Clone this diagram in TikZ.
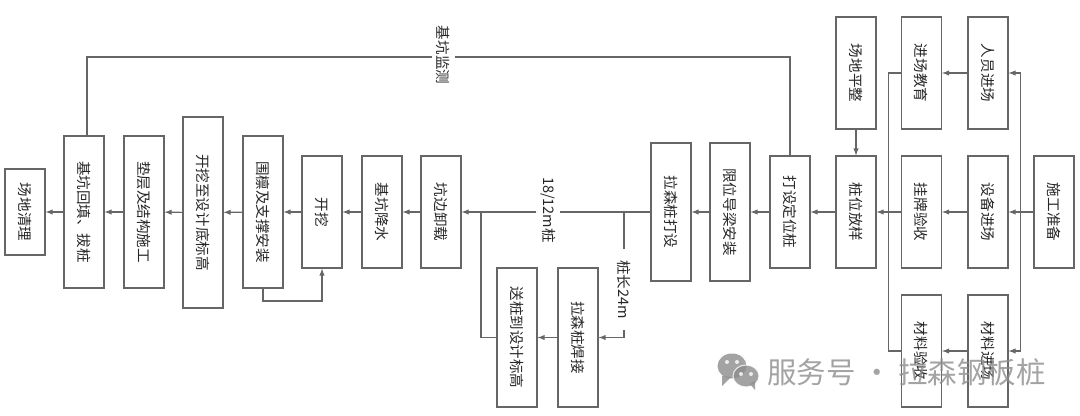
\documentclass[tikz,border=0pt]{standalone}
\usepackage{fontspec}
\setmainfont{Noto Sans CJK SC}
\usetikzlibrary{calc}
\definecolor{linegray}{gray}{0.4}
\tikzset{
    flowbox/.style={draw=linegray,line width=0.85pt,fill=white,rotate=-90,minimum height=30pt,inner sep=0pt,text=black!85,font=\fontsize{10.9}{12}\selectfont},
    flowlabel/.style={fill=white,rotate=-90,inner xsep=1pt,inner ysep=3pt,text=black!85,font=\fontsize{10.9}{12}\selectfont},
    line/.style={draw=linegray,line width=0.85pt},
    arrow/.style={line,-latex},
}
\begin{document}
\begin{tikzpicture}[x=0.75pt,y=-0.75pt]
    \useasboundingbox (0,0) rectangle (1080,415);

    % boxes: name/x/y/length/text
    \foreach \n/\x/\y/\l/\t in {
        clean/25/212/86/场地清理,
        backfill/84/212/152/基坑回填、拔桩,
        cushion/144/212/152/垫层及结构施工,
        bottom/203/212.5/191/开挖至设计底标高,
        purlin/263/212/152/围檩及支撑安装,
        dig/322/212/112/开挖,
        dewater/382/212/112/基坑降水,
        unload/441/212/112/坑边卸载,
        drive/517/337.5/139/送桩到设计标高,
        weld/578/337.5/139/拉森桩焊接,
        pile/671/212/138/拉森桩打设,
        guide/730/212/138/限位导梁安装,
        locate/790/212/112/打设定位桩,
        stake/856/212/112/桩位放样,
        level/856/73/112/场地平整,
        edu/921.5/73/112/进场教育,
        sign/921.5/212/112/挂牌验收,
        check/921.5/351/112/材料验收,
        staff/988/73/112/人员进场,
        equip/988/212/112/设备进场,
        mater/988/351/112/材料进场,
        prep/1054/212/112/施工准备}{
        \node[flowbox,minimum width=\l*0.75pt] (\n) at (\x,\y) {\t};
    }

    % main chain
    \foreach \a/\b in {prep/equip,equip/sign,sign/stake,stake/locate,locate/guide,guide/pile,
        unload/dewater,dewater/dig,dig/purlin,purlin/bottom,bottom/cushion,cushion/backfill,backfill/clean,
        staff/edu,mater/check,weld/drive,level/stake}{
        \draw[arrow] (\a) -- (\b);
    }

    % prep to the three arrivals
    \coordinate (trunk) at (1020.5,212);
    \draw[arrow] (trunk) |- (staff);
    \draw[arrow] (trunk) |- (mater);

    % edu and check to stake
    \coordinate (leftbus) at (888.5,212);
    \draw[line] (edu) -| (leftbus);
    \draw[line] (check) -| (leftbus);

    % monitoring line
    \node[flowlabel] (monitor) at (443.5,55) {基坑监测};
    \coordinate (monl) at (87,57);
    \coordinate (monr) at (790,57);
    \draw[line] (monitor.south |- monl) -- (monl) -- (monl |- backfill.west);
    \draw[line] (monitor.north |- monr) -- (monr) -- (monr |- locate.west);

    % pile length split
    \node[flowlabel] (short) at (548,210) {18/12m桩};
    \node[flowlabel,inner xsep=8.5pt] (long) at (624.5,289.5) {桩长24m};
    \coordinate (split) at (624,212);
    \coordinate (merge) at (481,212);
    \draw[line] (pile) -- (short.north |- split);
    \draw[arrow] (short.south |- merge) -- (unload);
    \draw[line] (split) -- (split |- long.west);
    \draw[arrow] (long.east -| split) |- (weld);
    \draw[line] (drive) -| (merge);

    % purlin back to dig
    \coordinate (under) at (293,301);
    \draw[arrow] (purlin.east) |- (under) -| (dig.east);

    % watermark
    \begin{scope}[opacity=0.8]
        \fill[black!45] (732,366) ellipse[x radius=14.5,y radius=12.5];
        \fill[black!45] (722,376) -- (722,386) -- (731,377) -- cycle;
        \fill[black!45,draw=white,line width=0.8pt] (746,376) ellipse[x radius=13,y radius=11];
        \fill[black!45] (750,384) -- (755,390) -- (755,381) -- cycle;
        \foreach \x/\y in {727/362,737/362,741/374,751/374}{
            \fill[white] (\x,\y) circle[radius=2];
        }
        \node[text=black!45,anchor=west,inner sep=0pt,font=\fontsize{22.1}{26}\selectfont] (mark) at (767,372) {服务号 · 拉森钢板桩};
    \end{scope}
\end{tikzpicture}
\end{document}
